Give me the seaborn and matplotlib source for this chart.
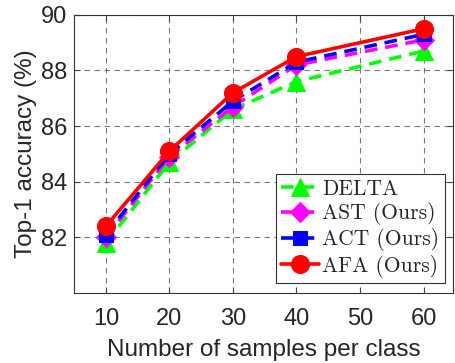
import pandas as pd
import numpy as np
import matplotlib
matplotlib.use("Agg")
import matplotlib.pyplot as plt
import seaborn as sns

samples = [10, 20, 30, 40, 60]
delta = [81.8, 84.7, 86.6, 87.6, 88.7]
ast = [82.0, 84.9, 86.7, 88.2, 89.1]
act = [82.1, 85.0, 86.9, 88.3, 89.3]
afa = [82.4, 85.1, 87.2, 88.5, 89.5]
methods = ['DELTA', 'AST (Ours)', 'ACT (Ours)', 'AFA (Ours)']

if __name__ == '__main__':
    sns.set_style("white")
    plt.rcParams["font.family"] = ["Liberation Sans", "DejaVu Sans"]
    plt.rcParams["font.size"] = 17

    df = pd.DataFrame({'samples': samples * 4,
                       'acc': delta + ast + act + afa,
                       'method': sum([[m] * len(samples) for m in methods], [])})

    fig, ax = plt.subplots(figsize=(4.55, 3.63), dpi=100)
    fig.subplots_adjust(left=0.163, right=0.995, bottom=0.193, top=0.959)

    dash = (0, (3.5, 2.2))
    styles = {'DELTA': dict(color='#00ff00', marker='^', ls=dash, ms=13),
              'AST (Ours)': dict(color='#ff00ff', marker='D', ls=dash, ms=10.5),
              'ACT (Ours)': dict(color='#0000ff', marker='s', ls=dash, ms=10),
              'AFA (Ours)': dict(color='#ff0000', marker='o', ls='-', ms=13)}
    for m in methods:
        s = styles[m]
        sns.lineplot(data=df[df.method == m], x='samples', y='acc', ax=ax,
                     color=s['color'], marker=s['marker'], markersize=s['ms'],
                     markeredgecolor=s['color'], linewidth=2.6, label=m)
        ax.lines[-1].set_linestyle(s['ls'])

    ax.set_xlim(5, 64.6)
    ax.set_ylim(80, 90)
    ax.set_xticks([10, 20, 30, 40, 50, 60])
    ax.set_yticks([82, 84, 86, 88, 90])
    ax.grid(True, color='#555555', linestyle=(0, (5, 4)), linewidth=0.8, alpha=0.8)
    ax.tick_params(direction='in', length=4, width=0.8, color='#444444',
                   labelsize=17, top=True, right=True, bottom=True, left=True)
    ax.tick_params(axis='x', pad=11)
    ax.tick_params(axis='y', pad=5)
    for sp in ax.spines.values():
        sp.set_color('#333333')
        sp.set_linewidth(0.8)
    ax.set_xlabel('Number of samples per class', fontsize=17.5, labelpad=6)
    ax.set_ylabel('Top-1 accuracy (%)', fontsize=17.5, labelpad=3)

    handles, labels = ax.get_legend_handles_labels()
    for h in handles:
        h.set_linestyle(styles[h.get_label()]['ls'])
    leg = ax.legend(handles, labels, loc='lower right', bbox_to_anchor=(0.99, 0.02),
                    prop={'family': 'cmr10', 'size': 15.5}, frameon=True, fancybox=False,
                    edgecolor='#333333', framealpha=1, handlelength=1.75,
                    handletextpad=0.15, labelspacing=0.15, borderpad=0.25,
                    borderaxespad=0.2)
    leg.get_frame().set_linewidth(0.8)

    fig.savefig('out.png', dpi=100)
